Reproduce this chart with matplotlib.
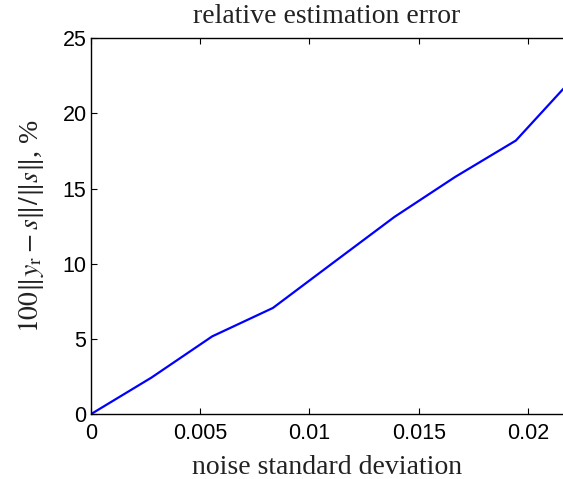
import matplotlib

matplotlib.use("Agg")
import matplotlib.pyplot as plt  # noqa: E402

# noise level vs relative estimation error (%)
noise_std = [0.0, 0.002778, 0.005556, 0.008333, 0.011111, 0.013889, 0.016667, 0.019444, 0.022222]
rel_err = [0.0, 2.44, 5.18, 7.07, 10.1, 13.12, 15.78, 18.2, 22.6]

x_ticks = [0, 0.005, 0.01, 0.015, 0.02]
x_ticklabels = ["0", "0.005", "0.01", "0.015", "0.02"]
y_ticks = [0, 5, 10, 15, 20, 25]

plt.rcParams["mathtext.fontset"] = "stix"
_SERIF = "Liberation Serif"
_SANS = "Liberation Sans"

fig = plt.figure(figsize=(5.63, 4.79), dpi=100)
ax = fig.add_axes([0.1611, 0.1351, 1 - 0.1611, 0.785])

ax.plot(noise_std, rel_err, color="#0000ff", linewidth=1.6)
ax.set_xlim(0, 0.0216)
ax.set_ylim(0, 25)

ax.set_xticks(x_ticks)
ax.set_xticklabels(x_ticklabels, family=_SANS, fontsize=15.5)
ax.set_yticks(y_ticks)
ax.set_yticklabels([str(v) for v in y_ticks], family=_SANS, fontsize=15.5)
ax.tick_params(direction="in", top=True, right=False, length=4, width=0.8)
ax.tick_params(axis="x", pad=6)
ax.tick_params(axis="y", pad=3)
ax.spines["right"].set_visible(False)
for s in ("left", "top", "bottom"):
    ax.spines[s].set_linewidth(1.0)

ax.set_title("relative estimation error", family=_SERIF, fontsize=20, pad=11, color="#222222")
ax.set_xlabel("noise standard deviation", family=_SERIF, fontsize=20, labelpad=8, color="#222222")
ax.set_ylabel(r"$100\|y_\mathrm{r}-s\|/\|s\|$, %", family=_SERIF, fontsize=20, labelpad=12, color="#222222")

fig.savefig("out.png", dpi=100)
plt.close(fig)
